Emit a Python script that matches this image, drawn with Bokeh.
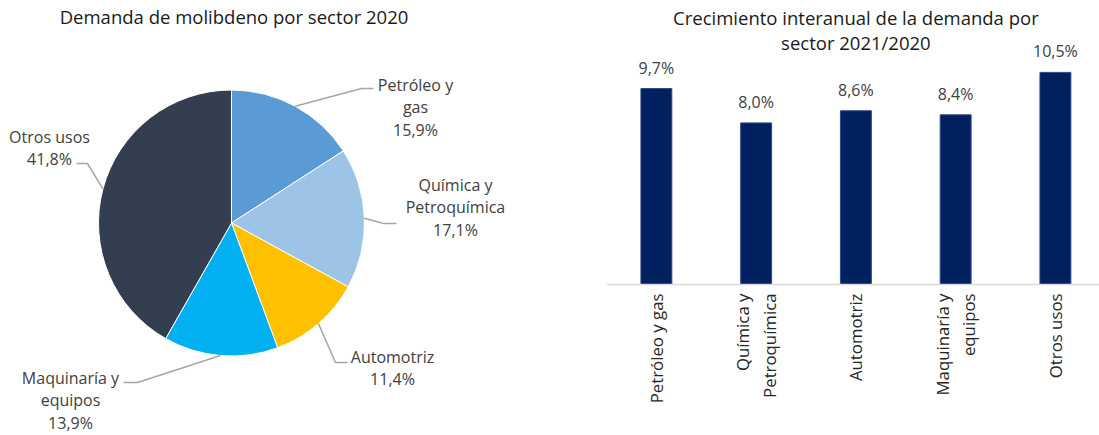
import math
import numpy as np
from bokeh.plotting import figure
from bokeh.layouts import row
from bokeh.models import Range1d, FixedTicker, ColumnDataSource
from bokeh.core.properties import value
from bokeh.embed import file_html
from bokeh.resources import INLINE

# ---------------- data ----------------
pie_title = "Demanda de molibdeno por sector 2020"
pie_sectors = ["Petróleo y\ngas", "Química y\nPetroquímica", "Automotriz", "Maquinaría y\nequipos", "Otros usos"]
pie_shares = [15.9, 17.1, 11.4, 13.9, 41.8]
pie_colors = ["#5B9BD5", "#9DC3E6", "#FFC000", "#00B0F0", "#333F50"]

bar_title = ["Crecimiento interanual de la demanda por", "sector 2021/2020"]
bar_sectors = ["Petróleo y gas", "Química y\nPetroquímica", "Automotriz", "Maquinaría y\nequipos", "Otros usos"]
bar_growth = [9.7, 8.0, 8.6, 8.4, 10.5]
bar_color = "#002060"

# ---------------- layout ----------------
FONT = "Open Sans"
H = 435
W1 = 560
W2 = 539


def fmt(v):
    return f"{v:.1f}".replace(".", ",") + "%"


def px(sx):
    return sx


def py(sy):
    return H - sy


# ---------------- pie ----------------
p1 = figure(width=W1, height=H, x_range=Range1d(0, W1), y_range=Range1d(0, H),
            min_border=0, output_backend="svg", toolbar_location=None,
            x_axis_location=None, y_axis_location=None)
p1.grid.visible = False
p1.outline_line_color = None
p1.frame_align = False

CX, CY, R = px(231), py(222.5), 133
shares = np.array(pie_shares, dtype=float)
fr = shares / shares.sum()
cum_end = np.cumsum(fr)
cum_start = cum_end - fr
start_angle = math.pi / 2 - 2 * math.pi * cum_end
end_angle = math.pi / 2 - 2 * math.pi * cum_start

src = ColumnDataSource(dict(start=start_angle, end=end_angle, color=pie_colors))
p1.wedge(x=CX, y=CY, radius=R, start_angle="start", end_angle="end",
         direction="anticlock", fill_color="color", line_color="white",
         line_width=1, source=src)

# label layout: elbow, end (screen px), text centre x, first line y
label_layout = [
    ((361, 88), (373, 88), 415, 84),
    ((383, 223), (396, 223), 455, 184),
    ((335, 362), (347, 362), 392, 356),
    ((137, 382), (123, 382), 70, 377),
    ((87, 163), (76, 163), 49, 136),
]
LINE = 22.8
xs, ys = [], []
tx, ty, tt = [], [], []
for i, (sector, share) in enumerate(zip(pie_sectors, pie_shares)):
    mid = cum_start[i] + fr[i] / 2
    th = math.pi / 2 - 2 * math.pi * mid
    ex, ey = CX + R * math.cos(th), CY + R * math.sin(th)
    (bx, by), (qx, qy), lx, ly = label_layout[i]
    xs.append([ex, px(bx), px(qx)])
    ys.append([ey, py(by), py(qy)])
    lines = sector.split("\n") + [fmt(share)]
    for j, ln in enumerate(lines):
        tx.append(px(lx))
        ty.append(py(ly + j * LINE))
        tt.append(ln)

p1.multi_line(xs=xs, ys=ys, line_color="#A6A6A6", line_width=1.5)
p1.text(x=tx, y=ty, text=tt, text_align="center", text_baseline="middle",
        text_font=value(FONT), text_font_size="16px", text_color="#404040")
p1.text(x=[px(233.5)], y=[py(16)], text=[pie_title], text_align="center",
        text_baseline="middle", text_font=value(FONT), text_font_size="18.5px",
        text_color="#1A1A1A")

# ---------------- bars ----------------
n = len(bar_sectors)
idx = list(range(n))
Y_END = 284 / 20.2
p2 = figure(width=W2, height=H, x_range=Range1d(-0.5, 4.442), y_range=Range1d(0, Y_END),
            output_backend="svg", toolbar_location=None,
            min_border_left=46, min_border_right=0, min_border_top=0, min_border_bottom=151,
            y_axis_location=None)
p2.grid.visible = False
p2.outline_line_color = None
p2.frame_align = False

p2.vbar(x=idx, top=bar_growth, bottom=0, width=0.31, fill_color=bar_color,
        line_color="#2F4B80", line_width=1)
p2.text(x=idx, y=bar_growth, text=[fmt(v) for v in bar_growth], y_offset=-21,
        text_align="center", text_baseline="middle", text_font=value(FONT),
        text_font_size="16px", text_color="#404040")

xmid = (n - 1) / 2
for j, line in enumerate(bar_title):
    p2.text(x=[xmid], y=[Y_END], text=[line], y_offset=17 + 25 * j,
            text_align="center", text_baseline="middle", text_font=value(FONT),
            text_font_size="18.5px", text_color="#1A1A1A")

ax = p2.xaxis[0]
ax.ticker = FixedTicker(ticks=idx)
ax.major_label_overrides = {i: s for i, s in enumerate(bar_sectors)}
ax.major_label_orientation = math.pi / 2
ax.major_label_standoff = 9
ax.major_tick_line_color = None
ax.minor_tick_line_color = None
ax.major_tick_out = 0
ax.axis_line_color = "#D9D9D9"
ax.axis_line_width = 1.5
ax.major_label_text_font = FONT
ax.major_label_text_font_size = "16.8px"
ax.major_label_text_color = "#262626"
ax.major_label_text_align = "center"
ax.major_label_text_line_height = 1.15

layout = row(p1, p2)
open("out.html", "w").write(file_html(layout, INLINE))
